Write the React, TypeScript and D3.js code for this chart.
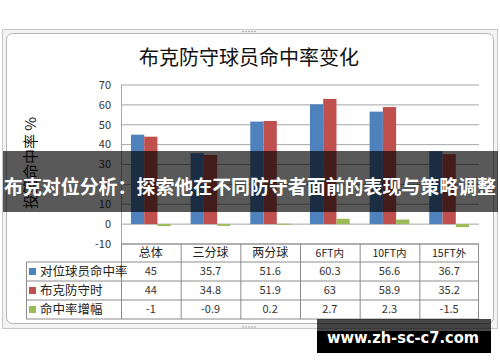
import React from 'react';
import * as d3 from 'd3';

const categories = ['总体', '三分球', '两分球', '6FT内', '10FT内', '15FT外'];
const seriesNames = ['对位球员命中率', '布克防守时', '命中率增幅'];
const opponentPct = [45, 35.7, 51.6, 60.3, 56.6, 36.7];
const bookerPct = [44, 34.8, 51.9, 63, 58.9, 35.2];
const changePct = [-1, -0.9, 0.2, 2.7, 2.3, -1.5];
const yTicks = [70, 60, 50, 40, 30, 20, 10, 0, -10];

const colors = ['#4F81BD', '#C0504D', '#9BBB59'];
const font = "'Noto Sans CJK SC', 'Noto Sans', sans-serif";

const App = () => {
  const seriesValues = [opponentPct, bookerPct, changePct];

  const plotLeft = 121;
  const plotRight = 479;
  const y = d3.scaleLinear().domain([-10, 70]).range([244, 85]);
  const x = d3.scaleBand().domain(categories).range([plotLeft, plotRight]).padding(0);
  const x1 = d3.scaleBand().domain(seriesNames).range([0, x.bandwidth()]).paddingInner(0).paddingOuter(0.75);

  // table rows
  const tableTop = y(-10);
  const headerH = 18;
  const rowH = 19;
  const legendLeft = 26;
  const rowTop = (i: number) => tableTop + headerH + i * rowH;
  const tableBottom = rowTop(seriesNames.length);

  return (
    <svg width={500} height={362} style={{ position: 'absolute', left: 0, top: 0 }} fontFamily={font}>
      <rect width={500} height={362} fill="#fff" />

      {/* chart frame */}
      <rect x={2.5} y={29.5} width={495} height={299} fill="#f3f3f3" stroke="#c9c9c9" />
      <rect x={6.5} y={33.5} width={487} height={290} rx={6} fill="#fff" stroke="#b5b5b5" />
      {[-6, -3, 0, 3, 6].map(d => (
        <g key={d}>
          <circle cx={249 + d} cy={31.5} r={0.8} fill="#999" />
          <circle cx={249 + d} cy={327} r={0.8} fill="#999" />
        </g>
      ))}

      <text x={249} y={65} textAnchor="middle" fontSize={20} fill="#111">布克防守球员命中率变化</text>

      {/* grid + y axis */}
      {yTicks.map(t => (
        <g key={t}>
          <line x1={plotLeft} x2={plotRight} y1={y(t)} y2={y(t)} stroke="#a6a6a6" />
          <text x={111} y={y(t)} dy="0.35em" textAnchor="end" fontSize={11} fill="#333">{t}</text>
        </g>
      ))}
      <line x1={plotLeft + 0.5} x2={plotLeft + 0.5} y1={y(70)} y2={tableTop} stroke="#a6a6a6" />
      <text transform={`translate(36,163) rotate(-90)`} textAnchor="middle" fontSize={15} fill="#111">投篮命中率 %</text>

      {/* bars */}
      {categories.map((c, ci) => (
        <g key={c} transform={`translate(${x(c)},0)`}>
          {seriesNames.map((s, si) => {
            const v = seriesValues[si][ci];
            return (
              <rect key={s} x={x1(s)} width={x1.bandwidth()}
                y={Math.min(y(v), y(0))} height={Math.max(1, Math.abs(y(v) - y(0)))}
                fill={colors[si]} />
            );
          })}
        </g>
      ))}

      {/* data table */}
      <g stroke="#8c8c8c" fill="none">
        <line x1={plotLeft} x2={plotRight} y1={tableTop} y2={tableTop} />
        {[0, 1, 2, 3].map(i => (
          <line key={i} x1={legendLeft} x2={plotRight} y1={rowTop(i)} y2={rowTop(i)} />
        ))}
        <line x1={legendLeft + 0.5} x2={legendLeft + 0.5} y1={rowTop(0)} y2={tableBottom} />
        {categories.map(c => (
          <line key={c} x1={x(c)! + 0.5} x2={x(c)! + 0.5} y1={tableTop} y2={tableBottom} />
        ))}
        <line x1={plotRight - 0.5} x2={plotRight - 0.5} y1={tableTop} y2={tableBottom} />
      </g>
      {categories.map(c => (
        <text key={c} x={x(c)! + x.bandwidth() / 2} y={tableTop + headerH / 2} dy="0.35em"
          textAnchor="middle" fontSize={c.includes('FT') ? 10.5 : 12} fill="#222">{c}</text>
      ))}
      {seriesNames.map((s, si) => (
        <g key={s}>
          <rect x={29} y={rowTop(si) + rowH / 2 - 3.5} width={7} height={7} fill={colors[si]} />
          <text x={40} y={rowTop(si) + rowH / 2} dy="0.35em" fontSize={12.5} fill="#222">{s}</text>
          {categories.map((c, ci) => (
            <text key={c} x={x(c)! + x.bandwidth() / 2} y={rowTop(si) + rowH / 2} dy="0.35em"
              textAnchor="middle" fontSize={11} fill="#333">{seriesValues[si][ci]}</text>
          ))}
        </g>
      ))}

      {/* overlay banner */}
      <rect x={3} y={151} width={495} height={61} fill="#000" opacity={0.65} />
      <text x={4} y={187} dy="0.35em" fontSize={19} fontWeight="bold" fill="#fff"
        textLength={492} lengthAdjust="spacingAndGlyphs">布克对位分析：探索他在不同防守者面前的表现与策略调整</text>

      {/* watermark */}
      <rect x={317} y={319} width={174} height={12} fill="#000" opacity={0.72} />
      <rect x={317} y={331} width={174} height={22} fill="#000" />
      <text x={327} y={343} fontSize={16} fontWeight="bold" fill="#fff" fontFamily="'DejaVu Sans', sans-serif"
        textLength={152} lengthAdjust="spacingAndGlyphs">www.zh-sc-c7.com</text>
    </svg>
  );
};

export default App;
